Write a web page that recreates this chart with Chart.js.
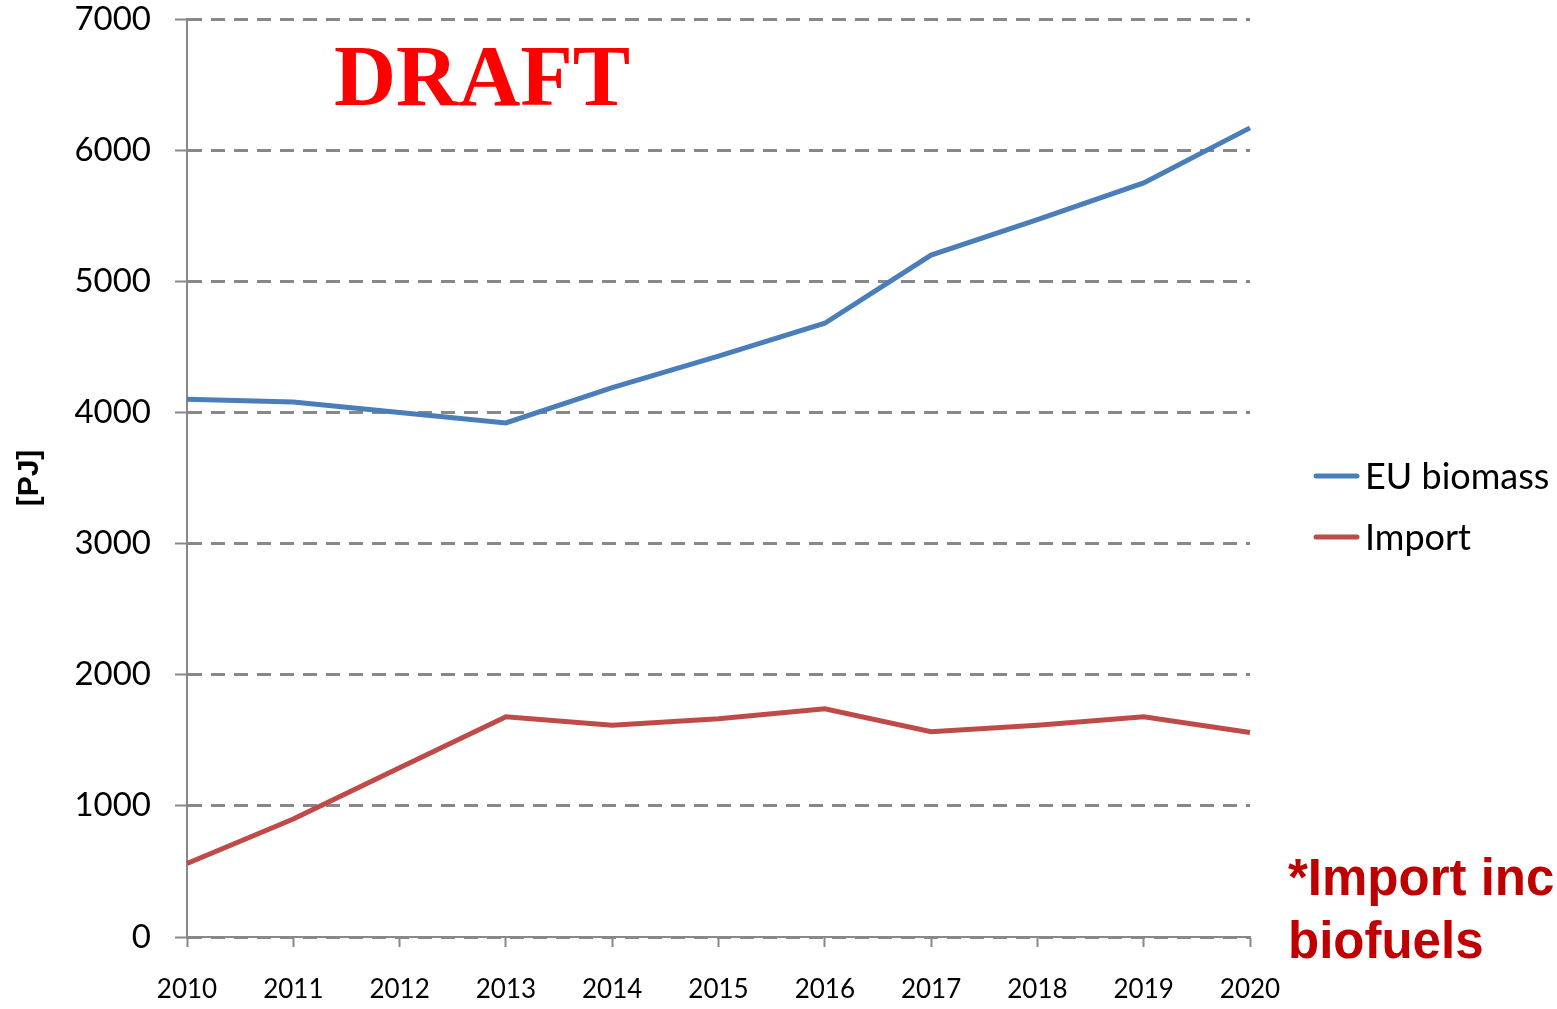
<!DOCTYPE html>
<html>
<head>
<meta charset="utf-8">
<title>EU biomass vs import</title>
<script src="https://cdn.jsdelivr.net/npm/chart.js@4.4.1/dist/chart.umd.min.js"></script>
<style>
    html, body { margin: 0; padding: 0; background: #fff; }
    #wrap { width: 1557px; height: 1009px; position: relative; }
</style>
</head>
<body>
<div id="wrap"><canvas id="bioChart"></canvas></div>
<script>
// data
const years = ["2010", "2011", "2012", "2013", "2014", "2015", "2016", "2017", "2018", "2019", "2020"];
const euBiomass = [4100, 4080, 4000, 3920, 4190, 4430, 4680, 5200, 5470, 5750, 6170];
const imports = [560, 900, 1290, 1680, 1615, 1665, 1740, 1565, 1615, 1680, 1560];
const yTicks = [0, 1000, 2000, 3000, 4000, 5000, 6000, 7000];

const blue = "#4A7EBB";
const red = "#BE4B48";
const gridGray = "#888888";

// legend + DRAFT + footnote drawn on the canvas
const extras = {
    id: "extras",
    afterDraw(chart) {
        const ctx = chart.ctx;
        ctx.save();

        // legend
        const items = chart.data.datasets;
        items.forEach((ds, i) => {
            const y = 476 + i * 61;
            ctx.strokeStyle = ds.borderColor;
            ctx.lineWidth = 5;
            ctx.lineCap = "round";
            ctx.beginPath();
            ctx.moveTo(1316, y);
            ctx.lineTo(1357, y);
            ctx.stroke();
            ctx.fillStyle = "#000";
            ctx.font = "36px Lato";
            ctx.textBaseline = "middle";
            ctx.textAlign = "left";
            ctx.fillText(ds.label, 1365, y + 1);
        });

        // DRAFT stamp
        ctx.fillStyle = "#FF0000";
        ctx.font = "bold 86px 'Liberation Serif'";
        ctx.textBaseline = "alphabetic";
        ctx.fillText("DRAFT", 334, 105);

        // footnote (cut off at the right edge like the source)
        ctx.fillStyle = "#C00000";
        ctx.font = "bold 51px 'Liberation Sans'";
        ctx.fillText("*Import incl.", 1288, 895);
        ctx.fillText("biofuels", 1288, 958);

        ctx.restore();
    }
};

const ctx = document.getElementById("bioChart").getContext("2d");

const chart = new Chart(ctx, {
    type: "line",
    data: {
        labels: years,
        datasets: [
            {
                label: "EU biomass",
                data: euBiomass,
                borderColor: blue,
                backgroundColor: blue,
                borderWidth: 5,
                pointRadius: 0,
                tension: 0
            },
            {
                label: "Import",
                data: imports,
                borderColor: red,
                backgroundColor: red,
                borderWidth: 5,
                pointRadius: 0,
                tension: 0
            }
        ]
    },
    options: {
        responsive: true,
        maintainAspectRatio: false,
        animation: false,
        layout: {
            padding: { top: 19, right: 307, left: 0, bottom: 0 }
        },
        plugins: {
            legend: { display: false },
            tooltip: { enabled: false }
        },
        scales: {
            x: {
                offset: false,
                grid: {
                    drawOnChartArea: false,
                    tickLength: 10,
                    tickColor: gridGray,
                    tickWidth: 2
                },
                border: { color: gridGray, width: 2 },
                ticks: {
                    color: "#000",
                    font: { family: "Lato", size: 26 },
                    padding: 27,
                    maxRotation: 0,
                    autoSkip: false
                },
                afterFit(scale) {
                    scale.height = 72;
                    scale.paddingLeft = 0;
                    scale.paddingRight = 0;
                }
            },
            y: {
                min: 0,
                max: 7000,
                afterBuildTicks(scale) {
                    scale.ticks = yTicks.map(v => ({ value: v }));
                },
                grid: {
                    color: gridGray,
                    lineWidth: 3,
                    tickLength: 12,
                    tickColor: gridGray,
                    tickWidth: 2,
                    tickBorderDash: []
                },
                border: { color: gridGray, width: 2, dash: [14, 9] },
                ticks: {
                    color: "#000",
                    font: { family: "Lato", size: 33 },
                    padding: 24,
                    callback: v => String(v)
                },
                title: {
                    display: true,
                    text: "[PJ]",
                    color: "#000",
                    font: { family: "Liberation Sans", size: 30, weight: "bold" },
                    padding: { top: 12, bottom: 0 }
                },
                afterFit(scale) {
                    scale.width = 187;
                    scale.paddingTop = 0;
                    scale.paddingBottom = 0;
                }
            }
        }
    },
    plugins: [extras]
});
</script>
</body>
</html>
